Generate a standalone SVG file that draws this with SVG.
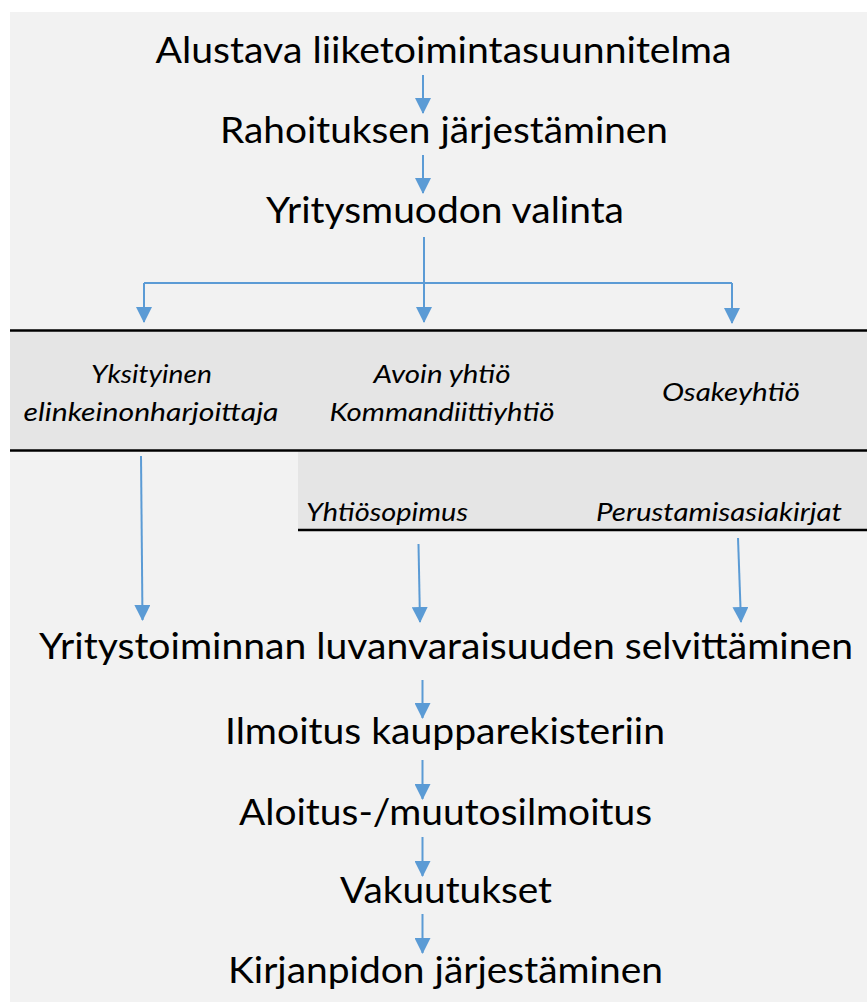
<svg xmlns="http://www.w3.org/2000/svg" width="867" height="1003" viewBox="0 0 867 1003">
<defs>
<marker id="ah" markerUnits="userSpaceOnUse" markerWidth="16" markerHeight="16" viewBox="0 0 16 16" refX="15" refY="8" orient="auto">
<path d="M0,0 L16,8 L0,16 Z" fill="#5b9bd5"/>
</marker>
<style>
.main{font-family:Lato,"Open Sans","Liberation Sans",sans-serif;font-size:37px;fill:#000;text-anchor:middle}
.it{font-family:Lato,"Open Sans","Liberation Sans",sans-serif;font-size:26px;font-style:italic;fill:#000;text-anchor:middle}
.itl{font-family:Lato,"Open Sans","Liberation Sans",sans-serif;font-size:26px;font-style:italic;fill:#000}
.c{fill:none;stroke:#5b9bd5;stroke-width:2}
.a{fill:none;stroke:#5b9bd5;stroke-width:2;marker-end:url(#ah)}
.rule{stroke:#000;stroke-width:2.5}
</style>
</defs>
<rect x="0" y="0" width="867" height="1003" fill="#ffffff"/>
<rect x="10" y="12" width="857" height="990" fill="#f2f2f2"/>
<rect x="10" y="330" width="857" height="120" fill="#e5e5e5"/>
<rect x="298" y="450" width="569" height="80" fill="#e5e5e5"/>
<g id="rules">
<line class="rule" x1="10" y1="330.5" x2="867" y2="330.5"/>
<line class="rule" x1="10" y1="450.5" x2="867" y2="450.5"/>
<line class="rule" x1="298" y1="530" x2="867" y2="530"/>
</g>
<g id="n1"><text class="main" x="443.5" y="63" textLength="576" lengthAdjust="spacingAndGlyphs">Alustava liiketoimintasuunnitelma</text></g>
<g id="n2"><text class="main" x="444" y="143" textLength="448" lengthAdjust="spacingAndGlyphs">Rahoituksen järjestäminen</text></g>
<g id="n3"><text class="main" x="445" y="223" textLength="358" lengthAdjust="spacingAndGlyphs">Yritysmuodon valinta</text></g>
<g id="n4"><text class="it" x="151.5" y="383" textLength="121" lengthAdjust="spacingAndGlyphs">Yksityinen</text><text class="it" x="151" y="421" textLength="255" lengthAdjust="spacingAndGlyphs">elinkeinonharjoittaja</text></g>
<g id="n5"><text class="it" x="442" y="383" textLength="137" lengthAdjust="spacingAndGlyphs">Avoin yhtiö</text><text class="it" x="442" y="421" textLength="225" lengthAdjust="spacingAndGlyphs">Kommandiittiyhtiö</text></g>
<g id="n6"><text class="it" x="731" y="401" textLength="138" lengthAdjust="spacingAndGlyphs">Osakeyhtiö</text></g>
<g id="n7"><text class="itl" x="306" y="521" textLength="162" lengthAdjust="spacingAndGlyphs">Yhtiösopimus</text></g>
<g id="n8"><text class="itl" x="596" y="521" textLength="246" lengthAdjust="spacingAndGlyphs">Perustamisasiakirjat</text></g>
<g id="n9"><text class="main" x="446" y="659" textLength="814" lengthAdjust="spacingAndGlyphs">Yritystoiminnan luvanvaraisuuden selvittäminen</text></g>
<g id="n10"><text class="main" x="445" y="744" textLength="440" lengthAdjust="spacingAndGlyphs">Ilmoitus kaupparekisteriin</text></g>
<g id="n11"><text class="main" x="445.5" y="825" textLength="413" lengthAdjust="spacingAndGlyphs">Aloitus-/muutosilmoitus</text></g>
<g id="n12"><text class="main" x="446" y="903" textLength="212" lengthAdjust="spacingAndGlyphs">Vakuutukset</text></g>
<g id="n13"><text class="main" x="445.5" y="983" textLength="435" lengthAdjust="spacingAndGlyphs">Kirjanpidon järjestäminen</text></g>
<g id="connectors">
<line class="a" x1="423" y1="75" x2="423" y2="113"/>
<line class="a" x1="423" y1="155" x2="423" y2="193"/>
<line class="a" x1="424" y1="237" x2="424" y2="322"/>
<polyline class="c" points="144,283 732,283"/>
<line class="a" x1="144" y1="283" x2="144" y2="322"/>
<line class="a" x1="732" y1="283" x2="732" y2="323"/>
<line class="a" x1="141" y1="456" x2="142.5" y2="620"/>
<line class="a" x1="418.5" y1="544" x2="420" y2="622"/>
<line class="a" x1="738" y1="538" x2="741" y2="622"/>
<line class="a" x1="422.5" y1="680" x2="422.5" y2="718"/>
<line class="a" x1="422.5" y1="760" x2="422.5" y2="799"/>
<line class="a" x1="422.5" y1="837" x2="422.5" y2="876"/>
<line class="a" x1="422.5" y1="914" x2="422.5" y2="953"/>
</g>
</svg>
